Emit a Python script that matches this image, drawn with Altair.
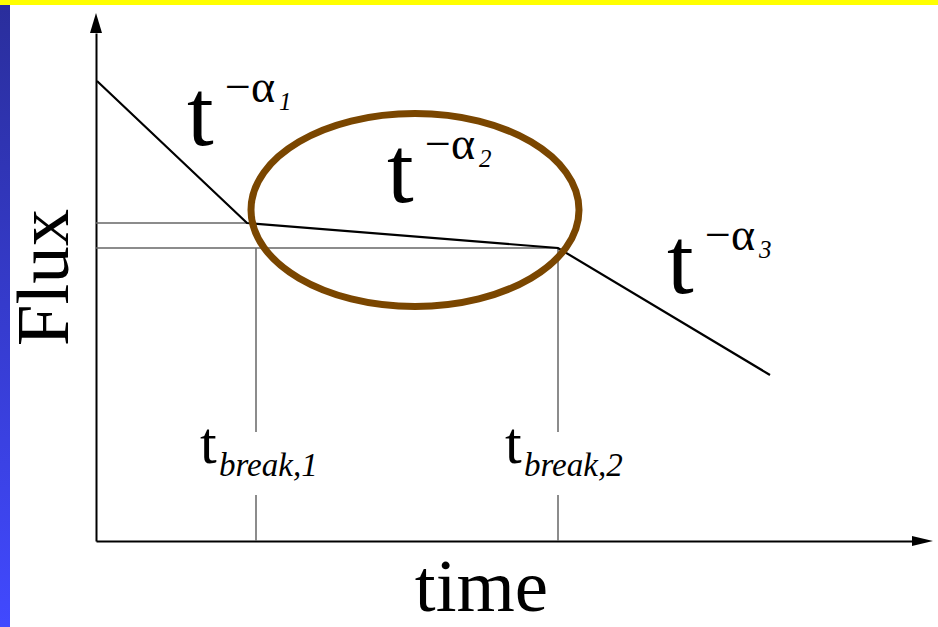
import altair as alt
import pandas as pd

# Broken power-law light curve, arbitrary units
curve_time = [0.1, 15.1, 46.2, 67.4]
curve_flux = [46.0, 31.8, 29.3, 16.6]

# Flux levels at the breaks, traced back to the Flux axis
level_flux = [31.8, 29.3]
level_end = [15.1, 46.2]

# Break times dropped to the time axis, left open where the label sits
break_time = [16.0, 46.2]
break_top = [29.3, 29.3]
gap_top = [10.9, 10.9]
gap_bottom = [4.6, 4.6]
break_names = ["break,1", "break,2"]
break_label_time = [10.4, 40.9]
break_label_flux = [7.8, 7.8]

# Power-law segment labels t^(-alpha_i)
seg_index = ["1", "2", "3"]
seg_label_time = [9.1, 29.1, 57.1]
seg_label_flux = [39.6, 33.9, 24.8]

# Ring around the second segment
ring_time = [31.9]
ring_flux = [33.1]

X_MAX = 81.6
Y_MAX = 50.8

SERIF = "Liberation Serif"

x_scale = alt.Scale(domain=[0, X_MAX], nice=False, zero=False)
y_scale = alt.Scale(domain=[0, Y_MAX], nice=False, zero=False)

axis_style = dict(
    domain=True, domainColor="#000000", domainWidth=2, domainCap="butt",
    ticks=False, labels=False, grid=False,
    titleFont=SERIF, titleFontSize=75, titleFontWeight="normal",
    titleColor="#000000", titleAlign="center", titleBaseline="alphabetic",
)
X = alt.X("time:Q", scale=x_scale, title="time",
          axis=alt.Axis(titleX=385, titleY=69, **axis_style))
Y = alt.Y("flux:Q", scale=y_scale, title="Flux",
          axis=alt.Axis(titleX=-29, titleY=244, titleAngle=270, **axis_style))

one = pd.DataFrame({"n": [0]})

# slide decoration: yellow strip on top, blue gradient strip on the left
yellow = alt.Chart(one).mark_rect(fill="#ffff00").encode(
    x=alt.value(-96), x2=alt.value(842), y=alt.value(-33), y2=alt.value(-28))
blue = alt.Chart(one).mark_rect(
    fill=alt.Gradient(gradient="linear", x1=0, x2=0, y1=0, y2=1,
                      stops=[alt.GradientStop(color="#2a2e9c", offset=0),
                             alt.GradientStop(color="#4149ff", offset=1)])
).encode(x=alt.value(-96), x2=alt.value(-86), y=alt.value(-28), y2=alt.value(594))

GUIDE = "#666666"
levels = pd.DataFrame({"time": [0.0] * len(level_flux), "time2": level_end,
                       "flux": level_flux})
h_guides = alt.Chart(levels).mark_rule(color=GUIDE, strokeWidth=1.5).encode(
    x=X, x2=alt.X2("time2:Q"), y=Y)

drops = pd.DataFrame({
    "time": break_time * 2,
    "flux": break_top + gap_bottom,
    "flux2": gap_top + [0.0] * len(break_time),
})
v_guides = alt.Chart(drops).mark_rule(color=GUIDE, strokeWidth=1.5).encode(
    x=X, y=Y, y2=alt.Y2("flux2:Q"))

curve_df = pd.DataFrame({"time": curve_time, "flux": curve_flux})
curve = alt.Chart(curve_df).mark_line(color="#000000", strokeWidth=2.2).encode(
    x=X, y=Y)

ELLIPSE = ("M -1 0 C -1 -0.3248 -0.5523 -0.588 0 -0.588 "
           "C 0.5523 -0.588 1 -0.3248 1 0 "
           "C 1 0.3248 0.5523 0.588 0 0.588 "
           "C -0.5523 0.588 -1 0.3248 -1 0 Z")
ring_df = pd.DataFrame({"time": ring_time, "flux": ring_flux})
ring = alt.Chart(ring_df).mark_point(
    shape=ELLIPSE, size=107584, filled=False, stroke="#7a4600",
    strokeWidth=7, opacity=1).encode(x=X, y=Y)

seg_df = pd.DataFrame({"time": seg_label_time, "flux": seg_label_flux,
                       "sub": seg_index})
seg_base = alt.Chart(seg_df).encode(x=X, y=Y)
seg_t = seg_base.mark_text(align="left", baseline="alphabetic", font=SERIF,
                           fontSize=96, color="#000000").encode(text=alt.value("t"))
seg_sup = seg_base.mark_text(align="left", baseline="alphabetic", font=SERIF,
                             fontSize=46, dx=38, dy=-43,
                             color="#000000").encode(text=alt.value("−α"))
seg_sub = seg_base.mark_text(align="left", baseline="alphabetic", font=SERIF,
                             fontSize=25, fontStyle="italic", dx=92, dy=-35,
                             color="#000000").encode(text="sub:N")

brk_df = pd.DataFrame({"time": break_label_time, "flux": break_label_flux,
                       "name": break_names})
brk_base = alt.Chart(brk_df).encode(x=X, y=Y)
brk_t = brk_base.mark_text(align="left", baseline="alphabetic", font=SERIF,
                           fontSize=60, color="#000000").encode(text=alt.value("t"))
brk_sub = brk_base.mark_text(align="left", baseline="alphabetic", font=SERIF,
                             fontSize=33, fontStyle="italic", dx=19, dy=13,
                             color="#000000").encode(text="name:N")

# arrowheads at the ends of both axes
up_df = pd.DataFrame({"time": [0.0], "flux": [Y_MAX + 1.0]})
up_arrow = alt.Chart(up_df).mark_point(
    shape="M 0 -1 L 0.6 1 L -0.6 1 Z", size=400, filled=True,
    fill="#000000", strokeWidth=0, opacity=1).encode(x=X, y=Y)
right_df = pd.DataFrame({"time": [X_MAX + 1.05], "flux": [0.0]})
right_arrow = alt.Chart(right_df).mark_point(
    shape="M 1 0 L -1 -0.48 L -1 0.48 Z", size=441, filled=True,
    fill="#000000", strokeWidth=0, opacity=1).encode(x=X, y=Y)

chart = alt.layer(
    yellow, blue, h_guides, v_guides, curve, ring,
    seg_t, seg_sup, seg_sub, brk_t, brk_sub, up_arrow, right_arrow,
).properties(
    width=816, height=508,
    padding={"left": 96, "top": 33, "right": 26, "bottom": 86},
    autosize=alt.AutoSizeParams(type="none"),
    background="#ffffff",
).configure_view(stroke=None)

chart.save("out.html", embed_options={"renderer": "svg", "actions": False})
